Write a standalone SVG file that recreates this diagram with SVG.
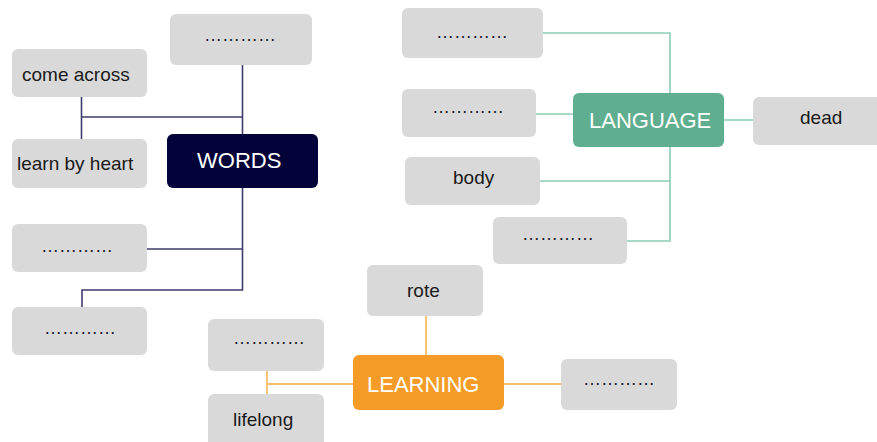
<svg xmlns="http://www.w3.org/2000/svg" width="877" height="442" viewBox="0 0 877 442">
<style>
.box{fill:#D9D9D9}
.t{font-family:"Liberation Sans",Arial,sans-serif;font-size:19px;fill:#1a1a1a}
.d{font-family:"Liberation Sans",Arial,sans-serif;font-size:18px;fill:#1a1a2a}
.h{font-family:"Liberation Sans",Arial,sans-serif;font-size:22px;fill:#ffffff}
.lw{fill:none;stroke:#3d3d6b;stroke-width:1.6}
.ll{fill:none;stroke:#8dceb4;stroke-width:1.6}
.lo{fill:none;stroke:#f8bf6a;stroke-width:1.8}
</style>
<rect width="877" height="442" fill="#ffffff"/>
<g id="connectors">
<path class="lw" d="M242.5 65V134M242.5 188V290H82V307M81.5 97V139M81.5 117H242.5M147 249H242.5"/>
<path class="ll" d="M543 33H670V93M670 147V241H627M540 181H670M536 114H573M724 120H753"/>
<path class="lo" d="M426 316V355M267 371V394M267 384H353M504 384H561"/>
</g>
<g id="words"><rect x="167" y="134" width="151" height="54" rx="6" fill="#03033a"/><text class="h" x="197" y="168">WORDS</text></g>
<g id="w-top"><rect class="box" x="170" y="14" width="142" height="51" rx="6"/><text class="d" x="204" y="41">…………</text></g>
<g id="come-across"><rect class="box" x="12" y="49" width="135" height="48" rx="6"/><text class="t" x="22" y="81">come across</text></g>
<g id="learn-by-heart"><rect class="box" x="12" y="139" width="135" height="49" rx="6"/><text class="t" x="17" y="170">learn by heart</text></g>
<g id="w-mid"><rect class="box" x="12" y="224" width="135" height="48" rx="6"/><text class="d" x="41" y="252">…………</text></g>
<g id="w-bot"><rect class="box" x="12" y="307" width="135" height="48" rx="6"/><text class="d" x="44" y="334">…………</text></g>
<g id="language"><rect x="573" y="93" width="151" height="54" rx="6" fill="#5fae8f"/><text class="h" x="589" y="128">LANGUAGE</text></g>
<g id="l-top"><rect class="box" x="402" y="8" width="141" height="50" rx="6"/><text class="d" x="436" y="38">…………</text></g>
<g id="l-mid"><rect class="box" x="402" y="89" width="134" height="48" rx="6"/><text class="d" x="432" y="113">…………</text></g>
<g id="dead"><rect class="box" x="753" y="97" width="130" height="48" rx="6"/><text class="t" x="800" y="124">dead</text></g>
<g id="body"><rect class="box" x="405" y="157" width="135" height="48" rx="6"/><text class="t" x="453" y="184">body</text></g>
<g id="l-bot"><rect class="box" x="493" y="217" width="134" height="47" rx="6"/><text class="d" x="522" y="240">…………</text></g>
<g id="learning"><rect x="353" y="355" width="151" height="55" rx="6" fill="#f49c27"/><text class="h" x="367" y="392">LEARNING</text></g>
<g id="rote"><rect class="box" x="367" y="265" width="116" height="51" rx="6"/><text class="t" x="407" y="297">rote</text></g>
<g id="g-top"><rect class="box" x="208" y="319" width="116" height="52" rx="6"/><text class="d" x="233" y="344">…………</text></g>
<g id="lifelong"><rect class="box" x="208" y="394" width="116" height="56" rx="6"/><text class="t" x="233" y="426">lifelong</text></g>
<g id="g-right"><rect class="box" x="561" y="359" width="116" height="51" rx="6"/><text class="d" x="583" y="385">…………</text></g>
</svg>
